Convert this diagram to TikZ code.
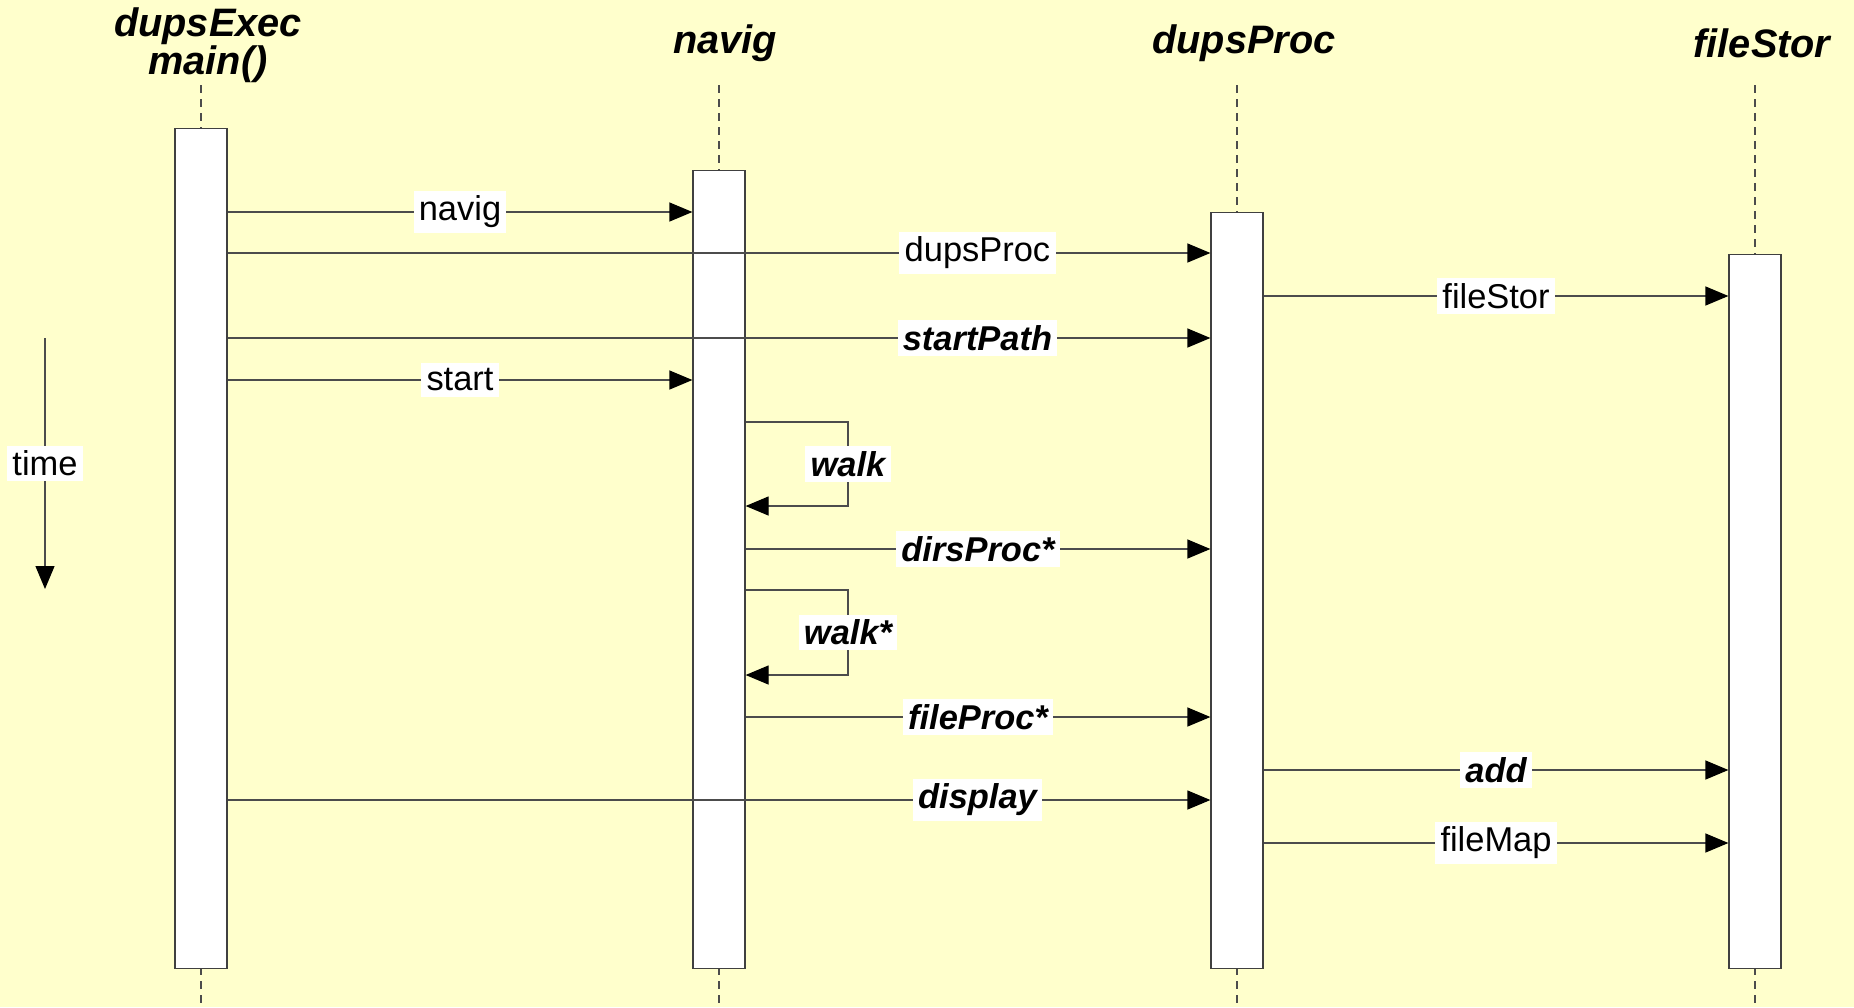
\documentclass[tikz,border=0pt]{standalone}
\usepackage{fontspec}
\setmainfont{Liberation Sans}
\usetikzlibrary{arrows.meta}
\definecolor{paper}{HTML}{FFFFCC}
\tikzset{
  actbox/.style={draw=black!75,fill=white,line width=0.35pt,minimum width=0.52cm,inner sep=0pt,anchor=north},
  msg/.style={draw=black!70,line width=0.35pt,-{Triangle[length=2.3mm,width=1.9mm,black]}},
  lbl/.style={fill=white,inner sep=1.5pt,font=\fontsize{9.8}{11}\selectfont},
  blbl/.style={lbl,font=\fontsize{9.8}{11}\selectfont\bfseries\itshape},
  head/.style={font=\fontsize{11.3}{10.8}\selectfont\bfseries\itshape,align=center},
  life/.style={draw=black!70,line width=0.35pt,dash pattern=on 0.8mm off 0.6mm}
}
\begin{document}
\begin{tikzpicture}
\fill[paper] (0,0) rectangle (18.54,-10.07);
\useasboundingbox (0,0) rectangle (18.54,-10.07);
\node[head] (hexec) at (2.08,-0.45) {dupsExec\\main()};
\node[head] (hnavig) at (7.25,-0.43) {navig};
\node[head] (hproc) at (12.44,-0.43) {dupsProc};
\node[head] (hstor) at (17.62,-0.43) {fileStor};
\foreach \x in {2.01,7.19,12.37,17.55}
  \draw[life] (\x,-0.85) -- (\x,-10.07);
\node[actbox,minimum height=8.40cm] (exec) at (2.01,-1.28) {};
\node[actbox,minimum height=7.98cm] (navig) at (7.19,-1.70) {};
\node[actbox,minimum height=7.56cm] (proc) at (12.37,-2.12) {};
\node[actbox,minimum height=7.14cm] (stor) at (17.55,-2.54) {};
\draw[msg] (exec.east |- 0,-2.12) -- node[lbl]{navig} (navig.west |- 0,-2.12);
\draw[msg] (exec.east |- 0,-2.53) -- node[lbl,pos=0.763]{dupsProc} (proc.west |- 0,-2.53);
\draw[msg] (proc.east |- 0,-2.96) -- node[lbl]{fileStor} (stor.west |- 0,-2.96);
\draw[msg] (exec.east |- 0,-3.38) -- node[blbl,pos=0.763]{startPath} (proc.west |- 0,-3.38);
\draw[msg] (exec.east |- 0,-3.80) -- node[lbl]{start} (navig.west |- 0,-3.80);
\draw[msg] (navig.east |- 0,-4.22) -| node[blbl,pos=0.75]{walk} (8.48,-5.06) -- (navig.east |- 0,-5.06);
\draw[msg] (navig.east |- 0,-5.49) -- node[blbl]{dirsProc*} (proc.west |- 0,-5.49);
\draw[msg] (navig.east |- 0,-5.90) -| node[blbl,pos=0.75]{walk*} (8.48,-6.75) -- (navig.east |- 0,-6.75);
\draw[msg] (navig.east |- 0,-7.17) -- node[blbl]{fileProc*} (proc.west |- 0,-7.17);
\draw[msg] (proc.east |- 0,-7.70) -- node[blbl]{add} (stor.west |- 0,-7.70);
\draw[msg] (exec.east |- 0,-8.00) -- node[blbl,pos=0.763]{display} (proc.west |- 0,-8.00);
\draw[msg] (proc.east |- 0,-8.43) -- node[lbl]{fileMap} (stor.west |- 0,-8.43);
\coordinate (t0) at (0.45,-3.38);
\coordinate (t1) at (0.45,-5.89);
\draw[msg] (t0) -- node[lbl]{time} (t1);
\end{tikzpicture}
\end{document}
